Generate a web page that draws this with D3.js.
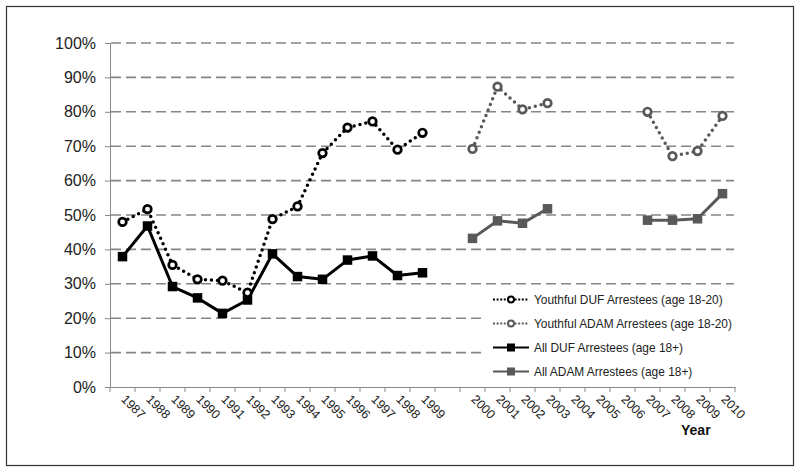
<!DOCTYPE html>
<html>
<head>
<meta charset="utf-8">
<script src="https://cdn.jsdelivr.net/npm/d3@7"></script>
<style>
  body { margin: 0; background: #fff; }
  text { font-family: "Liberation Sans", Arial, sans-serif; }
</style>
</head>
<body>
<script>
const w = 800;
const h = 473;

// categories (blank slot between 1999 and 2000, like the original)
const years = ["1987","1988","1989","1990","1991","1992","1993","1994","1995","1996","1997","1998","1999","gap",
               "2000","2001","2002","2003","2004","2005","2006","2007","2008","2009","2010"];
const yTicks = [0, 10, 20, 30, 40, 50, 60, 70, 80, 90, 100];

const duf_years = ["1987","1988","1989","1990","1991","1992","1993","1994","1995","1996","1997","1998","1999"];
const youthDUF = [48.0, 51.7, 35.5, 31.3, 30.9, 27.4, 48.8, 52.5, 68.0, 75.4, 77.2, 69.0, 73.9];
const allDUF   = [37.9, 46.8, 29.2, 25.9, 21.4, 25.3, 38.7, 32.1, 31.3, 36.9, 38.1, 32.4, 33.2];

const adam_years = ["2000","2001","2002","2003","2004","2005","2006","2007","2008","2009","2010"];
const youthADAM = [69.2, 87.3, 80.7, 82.5, null, null, null, 80.0, 67.1, 68.6, 78.8];
const allADAM   = [43.2, 48.3, 47.6, 51.8, null, null, null, 48.5, 48.5, 48.9, 56.2];

const black = "#000";
const grey = "#595959";

const svg = d3.select("body").append("svg")
  .attr("width", w)
  .attr("height", h);

// outer frame
svg.append("rect")
  .attr("x", 6.5).attr("y", 6.5)
  .attr("width", 787).attr("height", 459)
  .attr("fill", "#fff")
  .attr("stroke", "#333")
  .attr("stroke-width", 1.2);

const xScale = d3.scaleBand()
  .domain(years)
  .range([110, 735]);

const yScale = d3.scaleLinear()
  .domain([0, 100])
  .range([387, 43]);

// gridlines
svg.append("g")
  .selectAll("line")
  .data(yTicks.filter(d => d > 0))
  .enter()
  .append("line")
  .attr("x1", 111)
  .attr("x2", 734)
  .attr("y1", d => yScale(d))
  .attr("y2", d => yScale(d))
  .attr("stroke", "#858585")
  .attr("stroke-width", 1.6)
  .attr("stroke-dasharray", "10,5");

// y axis
const yAxis = d3.axisLeft(yScale)
  .tickValues(yTicks)
  .tickFormat(d => d + "%")
  .tickSize(5)
  .tickPadding(9);

const gy = svg.append("g")
  .attr("transform", "translate(110,0)")
  .call(yAxis);
gy.select(".domain").attr("stroke", "#888");
gy.selectAll(".tick line").attr("stroke", "#888");
gy.selectAll("text")
  .attr("font-size", 16)
  .attr("fill", "#222");

// x axis
const xAxis = d3.axisBottom(xScale)
  .tickSize(0)
  .tickFormat(d => d == "gap" ? "" : d);

const gx = svg.append("g")
  .attr("transform", "translate(0,387)")
  .call(xAxis);
gx.select(".domain").attr("stroke", "#888");
gx.selectAll(".tick text")
  .attr("font-size", 12.5)
  .attr("fill", "#222")
  .attr("text-anchor", "start")
  .attr("dy", 0)
  .attr("y", 0)
  .attr("transform", "translate(-2,13) rotate(45)");

// category boundary ticks
gx.selectAll(".bound")
  .data(years.concat(["end"]))
  .enter()
  .append("line")
  .attr("class", "bound")
  .attr("x1", (d, i) => 110 + i * xScale.step())
  .attr("x2", (d, i) => 110 + i * xScale.step())
  .attr("y1", 0)
  .attr("y2", 5)
  .attr("stroke", "#888");

const cx = d => xScale(d) + xScale.bandwidth() / 2;

const line = d3.line()
  .defined(d => d.v != null)
  .x(d => cx(d.year))
  .y(d => yScale(d.v));

function series(yrs, vals, color, dotted, marker) {
  const data = yrs.map((y, i) => ({year: y, v: vals[i]}));
  svg.append("path")
    .datum(data)
    .attr("fill", "none")
    .attr("stroke", color)
    .attr("stroke-width", dotted ? 3.5 : 3)
    .attr("stroke-dasharray", dotted ? "0,6" : null)
    .attr("stroke-linecap", dotted ? "round" : "butt")
    .attr("stroke-linejoin", "round")
    .attr("d", line);

  const pts = data.filter(d => d.v != null);
  if (marker == "circle") {
    svg.selectAll(null)
      .data(pts)
      .enter()
      .append("circle")
      .attr("cx", d => cx(d.year))
      .attr("cy", d => yScale(d.v))
      .attr("r", 3.8)
      .attr("fill", "#fff")
      .attr("stroke", color)
      .attr("stroke-width", 2.7);
  } else {
    svg.selectAll(null)
      .data(pts)
      .enter()
      .append("rect")
      .attr("x", d => cx(d.year) - 4.75)
      .attr("y", d => yScale(d.v) - 4.75)
      .attr("width", 9.5)
      .attr("height", 9.5)
      .attr("fill", color);
  }
}

series(duf_years, allDUF, black, false, "square");
series(adam_years, allADAM, grey, false, "square");
series(duf_years, youthDUF, black, true, "circle");
series(adam_years, youthADAM, grey, true, "circle");

// legend
const legendItems = [
  {label: "Youthful DUF Arrestees (age 18-20)", color: black, dotted: true, marker: "circle"},
  {label: "Youthful ADAM Arrestees (age 18-20)", color: grey, dotted: true, marker: "circle"},
  {label: "All DUF Arrestees (age 18+)", color: black, dotted: false, marker: "square"},
  {label: "All ADAM Arrestees (age 18+)", color: grey, dotted: false, marker: "square"}
];

svg.append("rect")
  .attr("x", 484).attr("y", 289)
  .attr("width", 250).attr("height", 96)
  .attr("fill", "#fff");

const lg = svg.selectAll(".legend")
  .data(legendItems)
  .enter()
  .append("g")
  .attr("class", "legend")
  .attr("transform", (d, i) => "translate(493," + (299.5 + i * 24) + ")");

lg.append("line")
  .attr("x1", 0).attr("x2", 36)
  .attr("y1", 0).attr("y2", 0)
  .attr("stroke", d => d.color)
  .attr("stroke-width", d => d.dotted ? 2 : 2.2)
  .attr("stroke-dasharray", d => d.dotted ? "2,1.6" : null);

lg.filter(d => d.marker == "circle")
  .append("circle")
  .attr("cx", 18).attr("cy", 0).attr("r", 3)
  .attr("fill", "#fff")
  .attr("stroke", d => d.color)
  .attr("stroke-width", 2);

lg.filter(d => d.marker == "square")
  .append("rect")
  .attr("x", 14).attr("y", -4)
  .attr("width", 8).attr("height", 8)
  .attr("fill", d => d.color);

lg.append("text")
  .attr("x", 41)
  .attr("y", 4.5)
  .attr("font-size", 11.9)
  .attr("fill", "#222")
  .text(d => d.label);

svg.append("text")
  .attr("x", 681)
  .attr("y", 435)
  .attr("font-size", 14)
  .attr("font-weight", "bold")
  .attr("fill", "#111")
  .text("Year");
</script>
</body>
</html>
